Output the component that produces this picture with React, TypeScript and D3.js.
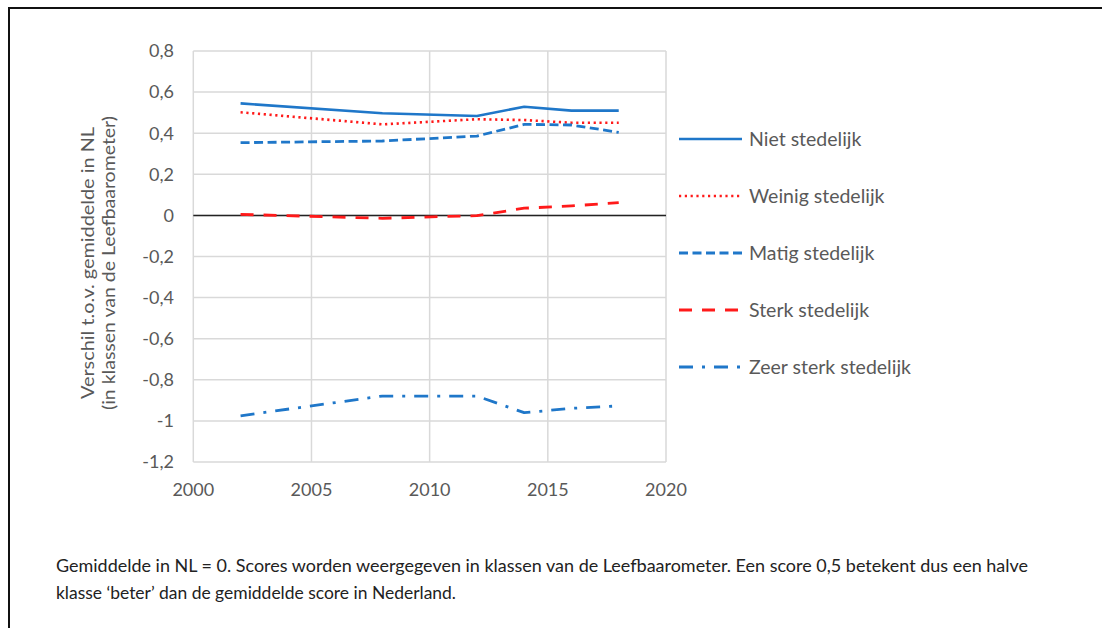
import React from 'react';
import * as d3 from 'd3';

// survey years of the Leefbaarometer
const years = [2002, 2008, 2012, 2014, 2016, 2018];

const nietStedelijk = [0.545, 0.497, 0.484, 0.529, 0.51, 0.51];
const weinigStedelijk = [0.502, 0.443, 0.468, 0.464, 0.451, 0.451];
const matigStedelijk = [0.354, 0.362, 0.386, 0.443, 0.44, 0.404];
const sterkStedelijk = [0.005, -0.014, -0.001, 0.035, 0.046, 0.062];
const zeerSterkStedelijk = [-0.975, -0.879, -0.879, -0.96, -0.939, -0.927];

const seriesNames = [
  'Niet stedelijk',
  'Weinig stedelijk',
  'Matig stedelijk',
  'Sterk stedelijk',
  'Zeer sterk stedelijk'
];

const xTicks = [2000, 2005, 2010, 2015, 2020];
const yTicks = [0.8, 0.6, 0.4, 0.2, 0, -0.2, -0.4, -0.6, -0.8, -1, -1.2];

const BLUE = '#1f77c9';
const RED = '#ff1a1a';

// line style per series
const styles = [
  { color: BLUE, dash: null, width: 2.6 },
  { color: RED, dash: '2.2 3.6', width: 2.6 },
  { color: BLUE, dash: '9 4.5', width: 2.8 },
  { color: RED, dash: '13 10', width: 2.8 },
  { color: BLUE, dash: '14 9 3 9', width: 2.8 }
];

const fmt = v => (v === 0 ? '0' : String(v).replace('.', ','));

export default function App() {
  const width = 1102;
  const height = 628;
  const left = 193.3;
  const right = 666;
  const top = 51;
  const bottom = 462;

  const x = d3.scaleLinear().domain([2000, 2020]).range([left, right]);
  const y = d3.scaleLinear().domain([-1.2, 0.8]).range([bottom, top]);

  const data = [
    nietStedelijk,
    weinigStedelijk,
    matigStedelijk,
    sterkStedelijk,
    zeerSterkStedelijk
  ];

  const line = d3
    .line()
    .x(d => x(d[0]))
    .y(d => y(d[1]));

  const gray = '#595959';
  const font = 'Lato, "Open Sans", sans-serif';

  return (
    <svg
      width={width}
      height={height}
      style={{ position: 'absolute', left: 0, top: 0, background: '#fff' }}
    >
      {/* outer frame: top and left edge */}
      <line x1={8} x2={width} y1={8} y2={8} stroke="#111" strokeWidth={2} />
      <line x1={9} x2={9} y1={7} y2={height} stroke="#111" strokeWidth={2} />

      {/* gridlines */}
      {yTicks.map(t => (
        <line
          key={'gy' + t}
          x1={left}
          x2={right}
          y1={y(t)}
          y2={y(t)}
          stroke="#d9d9d9"
          strokeWidth={1.5}
        />
      ))}
      {xTicks.map(t => (
        <line
          key={'gx' + t}
          x1={x(t)}
          x2={x(t)}
          y1={top}
          y2={bottom}
          stroke="#d9d9d9"
          strokeWidth={1.5}
        />
      ))}
      {/* zero line */}
      <line x1={left} x2={right} y1={y(0)} y2={y(0)} stroke="#222" strokeWidth={1.5} />

      {/* y tick labels */}
      {yTicks.map(t => (
        <text
          key={'ty' + t}
          x={174}
          y={y(t)}
          dy="0.35em"
          textAnchor="end"
          fill={gray}
          fontFamily={font}
          fontSize={18}
        >
          {fmt(t)}
        </text>
      ))}
      {/* x tick labels */}
      {xTicks.map(t => (
        <text
          key={'tx' + t}
          x={x(t)}
          y={bottom + 28}
          dy="0.35em"
          textAnchor="middle"
          fill={gray}
          fontFamily={font}
          fontSize={18}
        >
          {t}
        </text>
      ))}

      {/* y axis title */}
      <g transform="translate(88,263) rotate(-90)">
        <text
          x={-136}
          dy="0.35em"
          fill={gray}
          fontFamily={font}
          fontSize={17}
          textLength={272}
          lengthAdjust="spacingAndGlyphs"
        >
          Verschil t.o.v. gemiddelde in NL
        </text>
        <text
          x={-147}
          y={21}
          dy="0.35em"
          fill={gray}
          fontFamily={font}
          fontSize={17}
          textLength={294}
          lengthAdjust="spacingAndGlyphs"
        >
          (in klassen van de Leefbaarometer)
        </text>
      </g>

      {/* series */}
      {data.map((vals, i) => (
        <path
          key={seriesNames[i]}
          d={line(years.map((yr, j) => [yr, vals[j]]))}
          fill="none"
          stroke={styles[i].color}
          strokeWidth={styles[i].width}
          strokeDasharray={styles[i].dash || undefined}
          strokeLinejoin="round"
        />
      ))}

      {/* legend */}
      {seriesNames.map((name, i) => {
        const ly = 139 + i * 57;
        return (
          <g key={'lg' + name}>
            <line
              x1={679}
              x2={742}
              y1={ly}
              y2={ly}
              stroke={styles[i].color}
              strokeWidth={styles[i].width}
              strokeDasharray={styles[i].dash || undefined}
            />
            <text x={749} y={ly} dy="0.35em" fill={gray} fontFamily={font} fontSize={19.5}>
              {name}
            </text>
          </g>
        );
      })}

      {/* caption */}
      <text x={56} y={566} dy="0.35em" fill="#222" fontFamily={font} fontSize={16.5} textLength={972} lengthAdjust="spacingAndGlyphs">
        Gemiddelde in NL = 0. Scores worden weergegeven in klassen van de Leefbaarometer. Een score 0,5 betekent dus een halve
      </text>
      <text x={56} y={593} dy="0.35em" fill="#222" fontFamily={font} fontSize={16.5} textLength={400} lengthAdjust="spacingAndGlyphs">
        klasse ‘beter’ dan de gemiddelde score in Nederland.
      </text>
    </svg>
  );
}
